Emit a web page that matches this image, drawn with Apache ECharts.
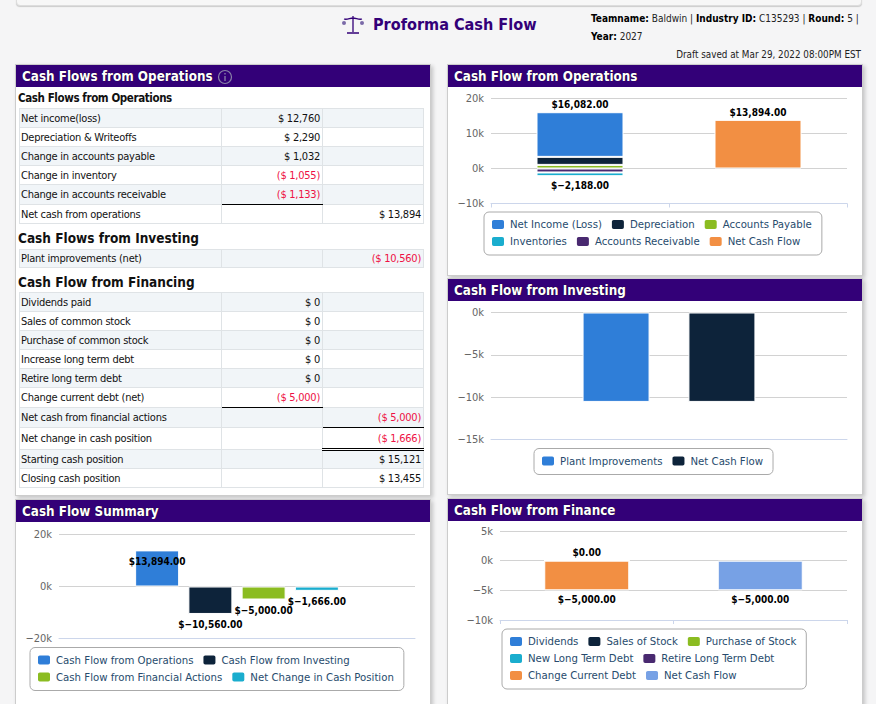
<!DOCTYPE html>
<html><head><meta charset="utf-8">
<script src="https://cdn.jsdelivr.net/npm/echarts@6/dist/echarts.min.js"></script>
<style>
html,body{margin:0;padding:0;background:#f5f5f6;width:876px;height:704px;overflow:hidden;font-family:"DejaVu Sans Condensed","DejaVu Sans",sans-serif;}
.abs{position:absolute}
#topbar{left:16px;top:-6px;width:844px;height:10px;background:#f7f7f7;border:1px solid #ddd;border-radius:0 0 4px 4px;box-shadow:0 1px 1px #ccc}
.panel{position:absolute;background:#fff;border:1px solid #ccc;box-sizing:border-box;box-shadow:2px 2px 4px rgba(0,0,0,.2)}
.head{position:absolute;left:0;top:0;right:0;height:22px;background:#330078;color:#fff;font-weight:700;font-size:13.35px;line-height:23px;padding-left:6px;white-space:nowrap;text-shadow:0 0 1px #000}
.chart{position:absolute}
table{position:absolute;border-collapse:collapse;table-layout:fixed;font-size:11px;letter-spacing:-.25px;color:#111;background:#fff;left:3px;width:404px}
td{border:1px solid #dfe3e6;padding:0 2px 0 1px;white-space:nowrap;box-sizing:border-box}
td+td{text-align:right}
tr.s td{background:#f1f5f8}
.neg{color:#ee1144}
.sub{position:absolute;left:2px;font-weight:700;color:#111;white-space:nowrap}
.ul{border-bottom:1.5px solid #000}
.dbl{border-bottom:3px double #000}
</style></head><body>
<div id="topbar" class="abs"></div>
<svg class="abs" style="left:341px;top:15px" width="24" height="20" viewBox="0 0 24 20"><g fill="none" stroke="#330078" stroke-width="1.3"><path d="M12 1v16M6 18h12M3 4c3 1 6-1 9-1s6 2 9 1"/></g><circle cx="3" cy="8" r="2" fill="#7a6aa8"/><circle cx="21" cy="8" r="2" fill="#7a6aa8"/></svg>
<div class="abs" style="left:373px;top:13px;font-size:16.1px;line-height:24px;font-weight:700;color:#330078;white-space:nowrap">Proforma Cash Flow</div>
<div class="abs" style="left:591px;top:10px;font-size:10px;color:#222;line-height:18px;white-space:nowrap"><b style="color:#000">Teamname:</b> Baldwin | <b style="color:#000">Industry ID:</b> C135293 | <b style="color:#000">Round:</b> 5 |<br><b style="color:#000">Year:</b> 2027</div>
<div class="abs" style="right:15px;top:48px;font-size:9.8px;line-height:14px;color:#222">Draft saved at Mar 29, 2022 08:00PM EST</div>

<div class="panel" style="left:15px;top:64px;width:416px;height:432px" id="tablePanel">
  <div class="head">Cash Flows from Operations <svg width="16" height="16" viewBox="0 0 16 16" style="vertical-align:-4px"><circle cx="8" cy="8" r="6.5" fill="none" stroke="#8a83a8" stroke-width="1.2"/><path d="M8 7v5M8 4v1.5" stroke="#8a83a8" stroke-width="1.3"/></svg></div>
</div>
<div class="panel" style="left:447px;top:64px;width:416px;height:212px"><div class="head">Cash Flow from Operations</div></div>
<div class="panel" style="left:447px;top:278px;width:416px;height:217px"><div class="head">Cash Flow from Investing</div></div>
<div class="panel" style="left:15px;top:499px;width:416px;height:220px"><div class="head">Cash Flow Summary</div></div>
<div class="panel" style="left:447px;top:498px;width:416px;height:220px"><div class="head">Cash Flow from Finance</div></div>
<div class="chart" id="c1" style="left:447px;top:87px;width:415px;height:188px"></div>
<div class="chart" id="c2" style="left:447px;top:301px;width:415px;height:193px"></div>
<div class="chart" id="c3" style="left:16px;top:522px;width:414px;height:182px"></div>
<div class="chart" id="c4" style="left:447px;top:521px;width:415px;height:183px"></div>
<script>
// ---- table data ----
const opsRows = [["Net income(loss)",12760,null],["Depreciation & Writeoffs",2290,null],["Change in accounts payable",1032,null],["Change in inventory",-1055,null],["Change in accounts receivable",-1133,null],["Net cash from operations",null,13894]];
const invRows = [["Plant improvements (net)",null,-10560]];
const finRows = [["Dividends paid",0,null],["Sales of common stock",0,null],["Purchase of common stock",0,null],["Increase long term debt",0,null],["Retire long term debt",0,null],["Change current debt (net)",-5000,null],["Net cash from financial actions",null,-5000],["Net change in cash position",null,-1666],["Starting cash position",null,15121],["Closing cash position",null,13455]];

// ---- chart data ----
const opsNames = ["Net Income (Loss)","Depreciation","Accounts Payable","Inventories","Accounts Receivable","Net Cash Flow"];
const opsValues = [[12760,null],[2290,null],[1032,null],[-1055,null],[-1133,null],[null,13894]];
const invNames = ["Plant Improvements","Net Cash Flow"];
const invValues = [-10560,-10560];
const sumNames = ["Cash Flow from Operations","Cash Flow from Investing","Cash Flow from Financial Actions","Net Change in Cash Position"];
const sumValues = [13894,-10560,-5000,-1666];
const finNames = ["Dividends","Sales of Stock","Purchase of Stock","New Long Term Debt","Retire Long Term Debt","Change Current Debt","Net Cash Flow"];
const finValues = [[0,null],[0,null],[0,null],[0,null],[0,null],[-5000,null],[null,-5000]];
const palette = ["#2f7ed8","#0d233a","#8bbc21","#1aadce","#492970","#f28f43","#77a1e5"];

const FONT = '"DejaVu Sans Condensed","DejaVu Sans",sans-serif';
const money = v => v==null?"":(v<0?'($ '+Math.abs(v).toLocaleString('en-US')+')':'$ '+v.toLocaleString('en-US'));
const usd = v => '$'+(v<0?'\u2212':'')+Math.abs(v).toLocaleString('en-US',{minimumFractionDigits:2,maximumFractionDigits:2});
const cell = (v,cls)=>`<td class="${(v!=null&&v<0?'neg ':'')+(cls||'')}">${money(v)}</td>`;
function table(rows,top,heights,marks){
  const h = rows.map((r,i)=>`<tr class="${i%2==0?'s':''}" style="height:${heights[i]}px"><td>${r[0].replace('&','&amp;')}</td>${cell(r[1],(marks[i]||[])[0])}${cell(r[2],(marks[i]||[])[1])}</tr>`).join('');
  return `<table style="top:${top}px"><colgroup><col style="width:202px"><col style="width:101px"><col style="width:101px"></colgroup>${h}</table>`;
}
const p = document.getElementById('tablePanel');
p.insertAdjacentHTML('beforeend',`<div class="sub" style="top:26px;font-size:11.5px;letter-spacing:-.4px">Cash Flows from Operations</div>`
 + table(opsRows,43,[19,19,19,19,20,19],{4:['ul']})
 + `<div class="sub" style="top:165px;font-size:13.5px">Cash Flows from Investing</div>`
 + table(invRows,184,[18],{})
 + `<div class="sub" style="top:209px;font-size:13.5px">Cash Flow from Financing</div>`
 + table(finRows,227,[19,19,19,19,19,20,20,22,19,19],{5:['ul'],6:[null,'ul'],7:[null,'dbl']}));

const yLabel = {color:'#666',fontSize:11,fontFamily:FONT,margin:7,formatter:v=>(v<0?'\u2212':'')+Math.abs(v/1000)+'k'};
const yAxis = (min,max,interval)=>({type:'value',min,max,interval,axisLine:{show:false},axisTick:{show:false},axisLabel:yLabel,splitLine:{lineStyle:{color:'#d2d2d2',width:1}}});
const xAxis = (cats,ticks)=>({type:'category',data:cats,position:'bottom',axisLine:{onZero:false,lineStyle:{color:'#ccd6eb',width:1}},axisTick:{show:ticks,length:4,lineStyle:{color:'#ccd6eb'}},axisLabel:{show:false}});
const legend = (names,left,top,width)=>({data:names,left,top,width,orient:'horizontal',itemWidth:14,itemHeight:11,itemGap:4,padding:[6,6,7,6],borderColor:'#aaa',borderWidth:1,borderRadius:5,icon:'roundRect',textStyle:{color:'#274b6d',fontSize:11.3,fontFamily:FONT,padding:[0,4,0,0],lineHeight:11},selectedMode:false});
const labelStyle = {color:'#000',fontSize:10,fontWeight:700,fontFamily:FONT};
const barItem = c=>({color:c,borderColor:'#fff',borderWidth:1});
const anim = {animation:false};
const mk = id=>echarts.init(document.getElementById(id),null,{renderer:'svg'});

// One stacked bar per category. The piece farthest from zero on each side carries that side's total.
// stackOrder lists the series indices in the order they stack outwards from zero.
function stackSeries(names,values,colors,barWidth,stackOrder){
  const total = (c,sign)=>values.reduce((a,r)=>a+((r[c]||0)*sign>0?r[c]:0),0);
  const outer = (c,test)=>{for(const i of [...stackOrder].reverse()) if(values[i][c]!=null&&test(values[i][c])) return i; return -1;};
  return stackOrder.map(i=>({
    name:names[i],type:'bar',stack:'s',barWidth,itemStyle:barItem(colors[i]),
    data:values[i].map((v,c)=>{
      if(v==null) return v;
      if(i===outer(c,x=>x>=0)) return {value:v,label:{show:true,...labelStyle,position:'top',distance:2.5,formatter:()=>usd(total(c,1))}};
      if(i===outer(c,x=>x<0)) return {value:v,label:{show:true,...labelStyle,position:'bottom',distance:4.5,formatter:()=>usd(total(c,-1))}};
      return v;
    })
  }));
}

mk('c1').setOption({...anim,
  grid:{left:44,top:11.5,width:356,height:105},
  legend:legend(opsNames,37,125,340),
  xAxis:xAxis(['a','b'],true),yAxis:yAxis(-10000,20000,10000),
  series:stackSeries(opsNames,opsValues,palette,87,[5,2,1,0,4,3])});

mk('c2').setOption({...anim,
  grid:{left:44,top:11.5,width:356,height:127},
  legend:legend(invNames,87,147.5,240),
  xAxis:xAxis(['a'],false),yAxis:yAxis(-15000,0,5000),
  series:invNames.map((n,i)=>({name:n,type:'bar',barWidth:67,barGap:'58%',itemStyle:barItem(palette[i]),data:[invValues[i]]}))});

mk('c3').setOption({...anim,
  grid:{left:43,top:12.5,width:356,height:104},
  legend:legend(sumNames,14,125.5,390),
  xAxis:xAxis(['a'],false),yAxis:yAxis(-20000,20000,20000),
  series:sumNames.map((n,i)=>({name:n,type:'bar',barWidth:44,barGap:'21%',itemStyle:barItem(palette[i]),
    data:[sumValues[i]],label:{show:true,...labelStyle,position:sumValues[i]>0?'insideTop':'bottom',distance:6,formatter:p=>usd(p.value)}}))});

mk('c4').setOption({...anim,
  grid:{left:53,top:10,width:347,height:89},
  legend:legend(finNames,55,108,310),
  xAxis:xAxis(['a','b'],true),yAxis:yAxis(-10000,5000,5000),
  series:stackSeries(finNames,finValues,palette,85,[0,1,2,3,4,5,6])});
</script>
</body></html>
